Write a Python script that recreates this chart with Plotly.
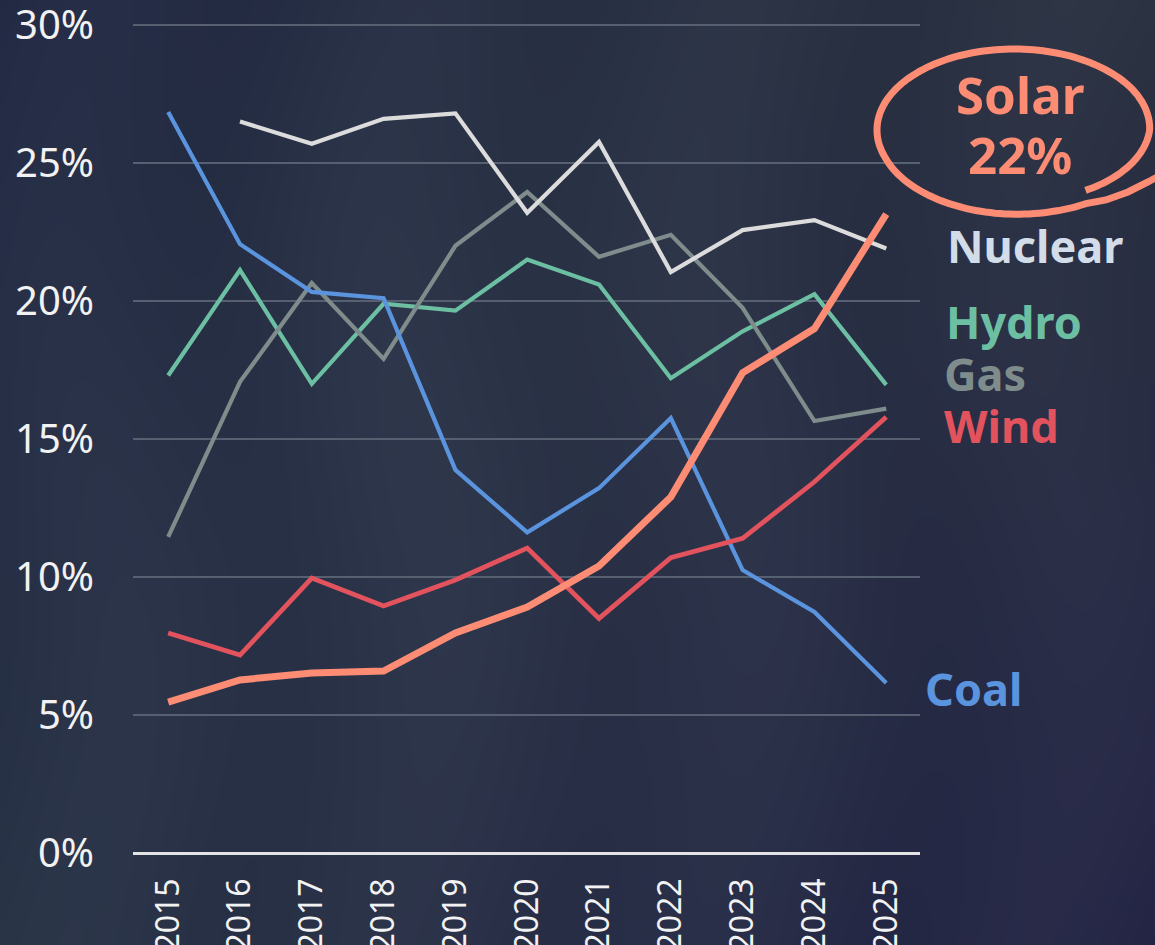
import base64
import struct
import zlib

import numpy as np
import plotly.graph_objects as go

# ---------------- data (share of generation, %) ----------------
years = list(range(2015, 2026))
coal = [26.85, 22.06, 20.33, 20.1, 13.88, 11.62, 13.22, 15.76, 10.25, 8.73, 6.16]
nuclear = [None, 26.5, 25.7, 26.6, 26.8, 23.2, 25.76, 21.05, 22.57, 22.93, 21.9]
hydro = [17.3, 21.12, 17.0, 19.9, 19.65, 21.5, 20.6, 17.2, 18.9, 20.25, 16.96]
gas = [11.45, 17.07, 20.65, 17.9, 22.0, 23.95, 21.6, 22.4, 19.75, 15.65, 16.1]
wind = [7.97, 7.17, 9.96, 8.95, 9.89, 11.05, 8.5, 10.7, 11.4, 13.45, 15.8]
solar = [5.47, 6.27, 6.52, 6.59, 7.97, 8.91, 10.4, 12.9, 17.4, 19.0, 23.15]
y_ticks = [0, 5, 10, 15, 20, 25, 30]
y_tick_labels = [f"{v}%" for v in y_ticks]
x_tick_labels = [str(y) for y in years]
solar_title = "Solar"
solar_share = "22%"

W, H = 1155, 945
L, R, B = 133, 920, 853  # plot area in pixels
Y30 = 25                 # pixel row of the 30% gridline
T = 12                   # plot top (a little above the 30% line)
y_top = 30 * (B - T) / (B - Y30)


def px(xp):
    return (xp - L) / (R - L)


def py(yp):
    return (B - yp) / (B - T)


# ---------------- background texture (decoration) ----------------
def make_bg():
    w, h = 289, 237
    xs = np.linspace(0, 1, w)[None, :]
    ys = np.linspace(0, 1, h)[:, None]
    tl = np.array([34, 41, 68.0])
    tr = np.array([44, 51, 66.0])
    bl = np.array([41, 51, 70.0])
    br = np.array([37, 38, 70.0])
    img = (tl * ((1 - xs) * (1 - ys))[..., None] + tr * (xs * (1 - ys))[..., None]
           + bl * ((1 - xs) * ys)[..., None] + br * (xs * ys)[..., None])
    bump = np.exp(-(((xs - 0.42) / 0.35) ** 2 + ((ys - 0.45) / 0.6) ** 2))
    img += (bump * 7)[..., None] * np.array([0.8, 1.0, 0.6])
    wave = np.sin((xs * 1155 + 35 * np.sin(ys * 945 / 140)) / 52.0)
    img += (wave * 2.5)[..., None]
    img = np.clip(img, 0, 255).astype(np.uint8)
    raw = b"".join(b"\x00" + img[i].tobytes() for i in range(h))

    def chunk(t, d):
        c = struct.pack(">I", len(d)) + t + d
        return c + struct.pack(">I", zlib.crc32(t + d) & 0xFFFFFFFF)

    png = (b"\x89PNG\r\n\x1a\n"
           + chunk(b"IHDR", struct.pack(">IIBBBBB", w, h, 8, 2, 0, 0, 0))
           + chunk(b"IDAT", zlib.compress(raw, 9))
           + chunk(b"IEND", b""))
    return "data:image/png;base64," + base64.b64encode(png).decode()


fig = go.Figure()

series = [
    ("Hydro", hydro, "#6cbfa2", 4.2),
    ("Gas", gas, "#7e8c8c", 4.2),
    ("Coal", coal, "#5b94de", 4.2),
    ("Wind", wind, "#e2535e", 4.8),
    ("Nuclear", nuclear, "#dcdcdc", 4.2),
    ("Solar", solar, "#fc8c74", 7),
]
for name, vals, color, width in series:
    fig.add_trace(go.Scatter(
        x=years, y=vals, mode="lines", name=name,
        line=dict(color=color, width=width),
        connectgaps=False, hoverinfo="skip", showlegend=False,
    ))

# ---------------- right-hand labels ----------------
label_font = "Noto Sans"
labels = [
    ("Nuclear", "#d2dde9", 945, 246),
    ("Hydro", "#6cbfa2", 944, 322),
    ("Gas", "#7e8c8c", 942, 374),
    ("Wind", "#e2535e", 942, 426),
    ("Coal", "#5b94de", 923, 688),
]
for text, color, xp, yp in labels:
    fig.add_annotation(
        x=px(xp), y=py(yp), xref="paper", yref="paper",
        xanchor="left", yanchor="middle", showarrow=False,
        text=f"<b>{text}</b>",
        font=dict(family=label_font, size=45, color=color),
    )

for text, yp in [(solar_title, 94), (solar_share, 154)]:
    fig.add_annotation(
        x=px(1020), y=py(yp), xref="paper", yref="paper",
        xanchor="center", yanchor="middle", showarrow=False,
        text=f"<b>{text}</b>",
        font=dict(family=label_font, size=51, color="#fc8c74"),
    )

# hand-drawn ellipse around the callout
cx, cy, rx, ry = 1014, 130, 137, 81
deg = np.linspace(-55, 300, 180)
scale = np.interp(deg, [-55, 0, 30, 200, 270, 300], [0.91, 0.99, 1.0, 1.0, 1.04, 1.05])
th = np.radians(deg)
pts = list(zip(cx + rx * scale * np.cos(th), cy - ry * scale * np.sin(th)))
pts += [(1106, 200), (1128, 192), (1148, 182), (1168, 171)]
path = "M " + " L ".join(f"{px(a):.4f},{py(b):.4f}" for a, b in pts)
fig.add_shape(type="path", path=path, xref="paper", yref="paper",
              line=dict(color="#fc8c74", width=7), layer="above")

fig.add_layout_image(
    source=make_bg(), xref="paper", yref="paper",
    x=px(0), y=py(0), sizex=W / (R - L), sizey=H / (B - T),
    xanchor="left", yanchor="top", sizing="stretch", layer="below",
)

fig.update_layout(
    width=W, height=H,
    margin=dict(l=L, r=W - R, t=T, b=H - B, autoexpand=False),
    paper_bgcolor="#282f47", plot_bgcolor="rgba(0,0,0,0)",
    font=dict(family="Noto Sans", color="#f2f2f2"),
)
fig.update_xaxes(
    range=[2014.51, 2025.47], tickvals=years, ticktext=x_tick_labels,
    tickangle=-90, showgrid=False, zeroline=False, showline=False,
    tickfont=dict(size=32, color="#f2f2f2", family="Noto Sans"),
    ticks="", ticklabelstandoff=18, automargin=False,
)
fig.update_yaxes(
    range=[0, y_top], tickvals=y_ticks, ticktext=y_tick_labels,
    showgrid=True, gridcolor="#566070", gridwidth=1.5,
    zeroline=True, zerolinecolor="#e4e4e4", zerolinewidth=2.5,
    showline=False, ticks="", ticklabelstandoff=38,
    ticklabeloverflow="allow",
    tickfont=dict(size=40, color="#f2f2f2", family="Noto Sans"),
    automargin=False,
)

fig.write_html(
    "out.html",
    config={"displayModeBar": False},
    post_script="document.body.style.margin='0';document.body.style.overflow='hidden';",
)
